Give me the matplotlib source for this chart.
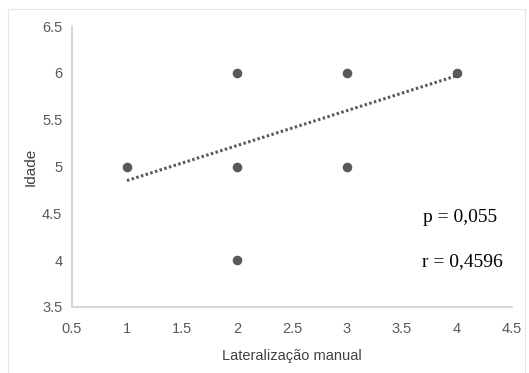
import matplotlib
matplotlib.use("Agg")
import matplotlib.pyplot as plt
from matplotlib.patches import Rectangle

lateralizacao = [1, 2, 2, 2, 3, 3, 4]
idade = [5, 6, 5, 4, 6, 5, 6]
trend_x = [1, 4]
trend_y = [4.85, 5.97]
xticks = [0.5, 1, 1.5, 2, 2.5, 3, 3.5, 4, 4.5]
yticks = [3.5, 4, 4.5, 5, 5.5, 6, 6.5]

plt.rcParams['font.family'] = ['Liberation Sans', 'DejaVu Sans']
W, H = 529, 373
fig = plt.figure(figsize=(W/100, H/100), dpi=100)
ax = fig.add_axes([72/W, 1-307/H, (512-72)/W, (307-26)/H])

gray = '#595959'
ax.scatter(lateralizacao, idade, s=48, color=gray, zorder=3, linewidths=0)
ax.plot(trend_x, trend_y, linestyle=(0, (0.8, 0.8)), color=gray, linewidth=2.2, zorder=2)

ax.set_xlim(0.5, 4.5)
ax.set_ylim(3.5, 6.5)
ax.set_xticks(xticks)
ax.set_yticks(yticks)
ax.set_xticklabels([f"{v:g}" for v in xticks])
ax.set_yticklabels([f"{v:g}" for v in yticks])
ax.tick_params(axis='y', length=0, labelsize=10.5, colors=gray, pad=7)
ax.tick_params(axis='x', length=0, labelsize=10.5, colors=gray, pad=11)
for s in ['top', 'right']:
    ax.spines[s].set_visible(False)
for s in ['left', 'bottom']:
    ax.spines[s].set_color('#d0d0d0')
    ax.spines[s].set_linewidth(1.2)

ax.set_xlabel('Lateralização manual', fontsize=10.5, color='#404040', labelpad=9)
ax.set_ylabel('Idade', fontsize=11, color='#404040', labelpad=3)

ax.text(423/W, 1-217/H, 'p = 0,055', transform=fig.transFigure, fontsize=14,
        family=['Liberation Serif'], va='center', ha='left', color='black')
ax.text(422/W, 1-262/H, 'r = 0,4596', transform=fig.transFigure, fontsize=14,
        family=['Liberation Serif'], va='center', ha='left', color='black')

fig.patches.append(Rectangle((8/W, -0.05), (525-8)/W, 1-9/H+0.05, transform=fig.transFigure,
                             fill=False, edgecolor='#e6e6e6', linewidth=0.8))

fig.savefig('out.png', dpi=100)
